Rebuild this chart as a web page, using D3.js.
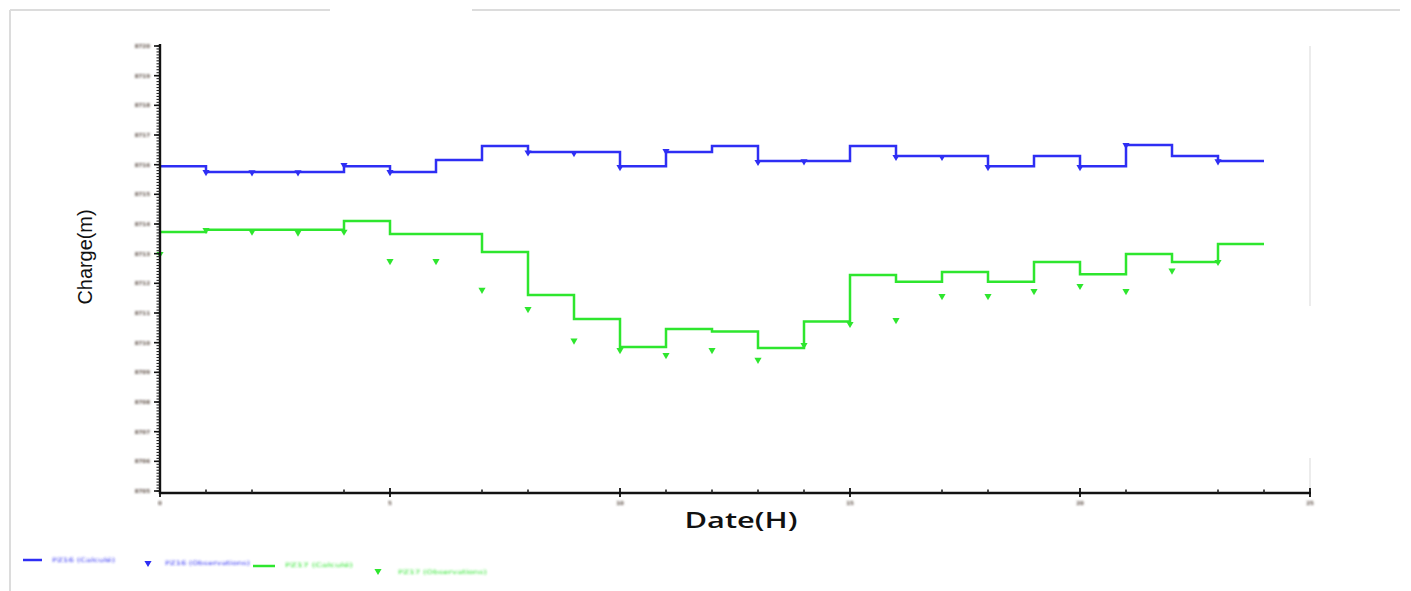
<!DOCTYPE html>
<html>
<head>
<meta charset="utf-8">
<script src="https://cdn.jsdelivr.net/npm/d3@7/dist/d3.min.js"></script>
<style>
  html, body { margin: 0; padding: 0; background: #fff; }
  svg { display: block; }
</style>
</head>
<body>
<svg id="chart" width="1411" height="591"></svg>
<script>
// Hourly time steps (H)
const hours = [0, 1, 2, 3, 4, 5, 6, 7, 8, 9, 10, 11, 12, 13, 14, 15, 16, 17, 18, 19, 20, 21, 22, 23];

// Piezometer 1 – simulated head (m), held constant over each hour
const p1Simulated = [8715.95, 8715.75, 8715.75, 8715.75, 8715.95, 8715.75, 8716.16, 8716.63,
                     8716.43, 8716.43, 8715.95, 8716.43, 8716.63, 8716.12, 8716.12, 8716.63,
                     8716.29, 8716.29, 8715.95, 8716.29, 8715.95, 8716.66, 8716.29, 8716.12];
// Piezometer 1 – observed head (m), null where no reading
const p1Observed  = [null, 8715.75, 8715.74, 8715.74, 8715.99, 8715.75, null, null,
                     8716.41, 8716.39, 8715.92, 8716.46, null, 8716.09, 8716.11, null,
                     8716.26, 8716.26, 8715.92, null, 8715.92, 8716.66, null, 8716.11];

// Piezometer 2 – simulated head (m)
const p2Simulated = [8713.73, 8713.81, 8713.81, 8713.81, 8714.10, 8713.66, 8713.66, 8713.06,
                     8711.61, 8710.80, 8709.85, 8710.46, 8710.38, 8709.82, 8710.71, 8712.28,
                     8712.05, 8712.38, 8712.05, 8712.72, 8712.31, 8712.99, 8712.72, 8713.33];
// Piezometer 2 – observed head (m)
const p2Observed  = [8712.99, 8713.80, 8713.74, 8713.71, 8713.74, 8712.75, 8712.75, 8711.78,
                     8711.13, 8710.07, 8709.75, 8709.58, 8709.75, 8709.42, 8709.92, 8710.63,
                     8710.76, 8711.57, 8711.57, 8711.74, 8711.91, 8711.74, 8712.43, 8712.72];

// Axis ticks
const yTicks = [8705, 8706, 8707, 8708, 8709, 8710, 8711, 8712, 8713, 8714, 8715, 8716, 8717, 8718, 8719, 8720];
const xTicks = [0, 5, 10, 15, 20, 25];
const xMinorTicks = [1, 2, 4, 7, 8, 11, 12, 13, 14, 17, 18, 21, 23, 24];

// Legend entries
const legendLabels = ["PZ16 (Calculé)", "PZ16 (Observations)", "PZ17 (Calculé)", "PZ17 (Observations)"];

const BLUE = "#2e2ef4";
const GREEN = "#2ee62e";

const svg = d3.select("#chart");

// soft look for the very small labels
const defs = svg.append("defs");
defs.append("filter").attr("id", "soft")
  .attr("x", "-20%").attr("y", "-60%").attr("width", "140%").attr("height", "220%")
  .append("feGaussianBlur").attr("stdDeviation", 0.8);

// page frame
const frame = svg.append("g").attr("stroke", "#dcdcdc").attr("stroke-width", 2).attr("fill", "none");
frame.append("line").attr("x1", 10).attr("y1", 10).attr("x2", 10).attr("y2", 591);
frame.append("line").attr("x1", 10).attr("y1", 10).attr("x2", 330).attr("y2", 10);
frame.append("line").attr("x1", 472).attr("y1", 10).attr("x2", 1400).attr("y2", 10);

// scales
const x = d3.scaleLinear().domain([0, 25]).range([160, 1310]);
const y = d3.scaleLinear().domain([8705, 8720]).range([491, 46]);

// faint right edge of the plotting area
svg.append("line").attr("x1", 1310).attr("x2", 1310).attr("y1", 46).attr("y2", 306)
  .attr("stroke", "#ececec").attr("stroke-width", 2);
svg.append("line").attr("x1", 1310).attr("x2", 1310).attr("y1", 458).attr("y2", 493)
  .attr("stroke", "#ececec").attr("stroke-width", 2);

// step lines
function stepPoints(values) {
  const pts = values.map((v, i) => ({ h: hours[i], v }));
  pts.push({ h: hours[hours.length - 1] + 1, v: values[values.length - 1] });
  return pts;
}
const stepLine = d3.line().x(d => x(d.h)).y(d => y(d.v)).curve(d3.curveStepAfter);

svg.append("path").datum(stepPoints(p1Simulated))
  .attr("d", stepLine).attr("fill", "none").attr("stroke", BLUE).attr("stroke-width", 2.5);
svg.append("path").datum(stepPoints(p2Simulated))
  .attr("d", stepLine).attr("fill", "none").attr("stroke", GREEN).attr("stroke-width", 2.5);

// observed markers (small down-pointing triangles)
const tri = d3.symbol().type(d3.symbolTriangle).size(22);
function drawMarkers(values, color) {
  const pts = values.map((v, i) => ({ h: hours[i], v })).filter(d => d.v !== null);
  svg.append("g").selectAll("path").data(pts).join("path")
    .attr("d", tri)
    .attr("transform", d => `translate(${x(d.h)},${y(d.v)}) rotate(180)`)
    .attr("fill", color);
}
drawMarkers(p1Observed, BLUE);
drawMarkers(p2Observed, GREEN);

// y axis
const yMinor = d3.range(8705, 8720.001, 0.1);
const yAxisG = svg.append("g");
yAxisG.append("line").attr("x1", 160).attr("x2", 160).attr("y1", 44).attr("y2", 494)
  .attr("stroke", "#111").attr("stroke-width", 2.4);
yAxisG.selectAll("line.minor").data(yMinor).join("line").attr("class", "minor")
  .attr("x1", 156.5).attr("x2", 160).attr("y1", d => y(d)).attr("y2", d => y(d))
  .attr("stroke", "#222").attr("stroke-width", 1.1);
yAxisG.selectAll("line.major").data(yTicks).join("line").attr("class", "major")
  .attr("x1", 154).attr("x2", 160).attr("y1", d => y(d)).attr("y2", d => y(d))
  .attr("stroke", "#111").attr("stroke-width", 1.6);
yAxisG.selectAll("text").data(yTicks).join("text")
  .attr("x", 150).attr("y", d => y(d) + 2)
  .attr("text-anchor", "end")
  .attr("font-family", "DejaVu Sans, sans-serif").attr("font-size", 5.5).attr("font-weight", "bold")
  .attr("fill", "#5c4d44").attr("filter", "url(#soft)")
  .text(d => d);

// x axis
const xAxisG = svg.append("g");
xAxisG.append("line").attr("x1", 159).attr("x2", 1311).attr("y1", 493).attr("y2", 493)
  .attr("stroke", "#111").attr("stroke-width", 2.4);
xAxisG.selectAll("line.minor").data(xMinorTicks).join("line").attr("class", "minor")
  .attr("x1", d => x(d)).attr("x2", d => x(d)).attr("y1", 489.5).attr("y2", 493)
  .attr("stroke", "#222").attr("stroke-width", 1.6);
xAxisG.selectAll("line.major").data(xTicks).join("line").attr("class", "major")
  .attr("x1", d => x(d)).attr("x2", d => x(d)).attr("y1", 488).attr("y2", 497)
  .attr("stroke", "#111").attr("stroke-width", 1.8);
xAxisG.selectAll("text").data(xTicks).join("text")
  .attr("x", d => x(d)).attr("y", 505)
  .attr("text-anchor", "middle")
  .attr("font-family", "DejaVu Sans, sans-serif").attr("font-size", 5.5).attr("font-weight", "bold")
  .attr("fill", "#5c4d44").attr("filter", "url(#soft)")
  .text(d => d);

// axis titles
svg.append("text")
  .attr("x", 741).attr("y", 528).attr("text-anchor", "middle")
  .attr("font-family", "Open Sans, sans-serif").attr("font-weight", 600).attr("font-size", 21)
  .attr("textLength", 113).attr("lengthAdjust", "spacingAndGlyphs")
  .attr("fill", "#111")
  .text("Date(H)");

svg.append("text")
  .attr("transform", "translate(92,257) rotate(-90)")
  .attr("text-anchor", "middle")
  .attr("font-family", "Liberation Sans Narrow, Liberation Sans, sans-serif").attr("font-size", 20)
  .attr("textLength", 95).attr("lengthAdjust", "spacingAndGlyphs")
  .attr("fill", "#111")
  .text("Charge(m)");

// legend
const legend = svg.append("g");
const legendText = (tx, ty, w, label, color) =>
  legend.append("text").attr("x", tx).attr("y", ty + 2)
    .attr("font-family", "DejaVu Sans, sans-serif").attr("font-size", 6)
    .attr("textLength", w).attr("lengthAdjust", "spacingAndGlyphs")
    .attr("fill", color).attr("filter", "url(#soft)").text(label);

legend.append("line").attr("x1", 23).attr("x2", 42).attr("y1", 560).attr("y2", 560)
  .attr("stroke", BLUE).attr("stroke-width", 2.5);
legendText(52, 560, 63, legendLabels[0], BLUE);
legend.append("path").attr("d", tri).attr("transform", "translate(148,563) rotate(180)").attr("fill", BLUE);
legendText(165, 563, 85, legendLabels[1], BLUE);

legend.append("line").attr("x1", 253).attr("x2", 275).attr("y1", 566).attr("y2", 566)
  .attr("stroke", GREEN).attr("stroke-width", 2.5);
legendText(285, 565, 68, legendLabels[2], GREEN);
legend.append("path").attr("d", tri).attr("transform", "translate(378,571) rotate(180)").attr("fill", GREEN);
legendText(398, 572, 89, legendLabels[3], GREEN);
</script>
</body>
</html>
